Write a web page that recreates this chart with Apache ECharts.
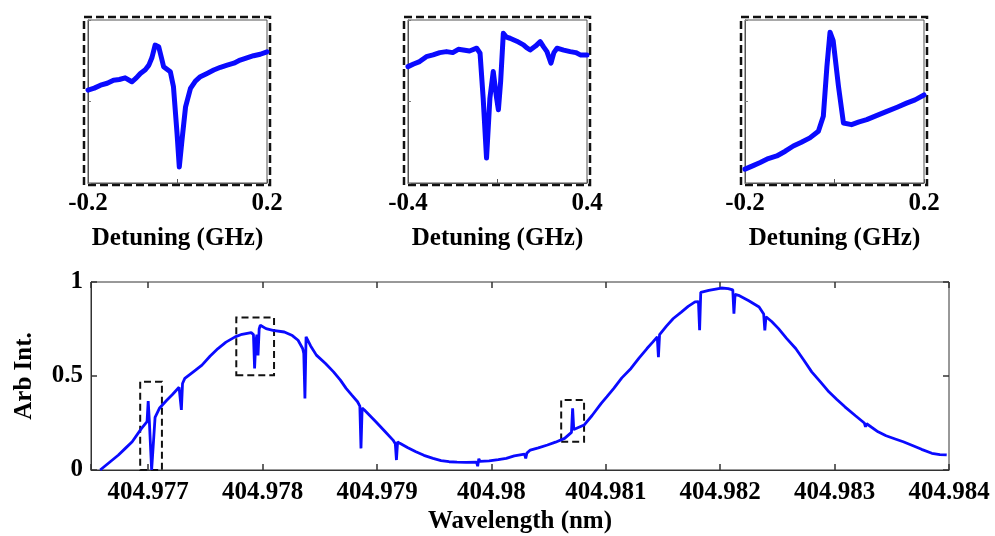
<!DOCTYPE html>
<html>
<head>
<meta charset="utf-8">
<script src="https://cdn.jsdelivr.net/npm/echarts@6.0.0/dist/echarts.min.js"></script>
<style>html,body{margin:0;padding:0;background:#fff}#c{width:995px;height:536px}</style>
</head>
<body>
<div id="c"></div>
<script>
// ---------- main spectrum ----------
const wavelength = [
404.97658,404.97666,404.97674,404.97680,404.97686,404.97694,404.97699,404.97700,404.97701,404.97703,
404.97704,404.97706,404.97710,404.97716,404.97721,404.97727,404.97728,404.97729,404.97730,404.97732,
404.97740,404.97747,404.97754,404.97761,404.97768,404.97776,404.97782,404.97790,404.97792,404.97793,
404.97794,404.97795,404.97796,404.97797,404.97798,404.97803,404.97809,404.97819,404.97826,404.97831,
404.97835,404.97836,404.97837,404.97838,404.97842,404.97847,404.97855,404.97862,404.97868,404.97873,
404.97878,404.97883,404.97885,404.97886,404.97887,404.97889,404.97899,404.97907,404.97914,404.97916,
404.97917,404.97918,404.97920,404.97927,404.97934,404.97941,404.97949,404.97956,404.97963,404.97970,
404.97978,404.97987,404.97988,404.97989,404.97990,404.97998,404.98006,404.98013,404.98020,404.98029,
404.98030,404.98031,404.98034,404.98041,404.98049,404.98056,404.98064,404.98070,404.98071,404.98072,
404.98081,404.98088,404.98096,404.98101,404.98107,404.98114,404.98122,404.98129,404.98136,404.98141,
404.98145,404.98146,404.98147,404.98153,404.98159,404.98166,404.98172,404.98178,404.98181,404.98182,
404.98183,404.98190,404.98201,404.98207,404.98211,404.98212,404.98213,404.98216,404.98225,404.98234,
404.98238,404.98239,404.98240,404.98245,404.98251,404.98258,404.98266,404.98273,404.98280,404.98288,
404.98295,404.98302,404.98309,404.98318,404.98326,404.98327,404.98328,404.98338,404.98345,404.98353,
404.98360,404.98367,404.98376,404.98385,404.98392,404.98398
];
const intensity = [
0.0,0.04,0.08,0.115,0.15,0.22,0.257,0.366,0.26,0.0,
0.0,0.28,0.33,0.37,0.40,0.44,0.45,0.32,0.46,0.487,
0.525,0.558,0.605,0.646,0.68,0.708,0.722,0.731,0.72,0.54,
0.68,0.72,0.61,0.75,0.77,0.752,0.743,0.734,0.715,0.69,
0.646,0.62,0.381,0.708,0.66,0.611,0.566,0.522,0.478,0.434,
0.398,0.363,0.34,0.115,0.33,0.319,0.257,0.205,0.159,0.14,
0.053,0.15,0.142,0.118,0.097,0.078,0.062,0.05,0.044,0.042,
0.041,0.042,0.02,0.06,0.046,0.049,0.055,0.062,0.075,0.085,
0.062,0.09,0.106,0.118,0.133,0.148,0.168,0.2,0.328,0.215,
0.239,0.29,0.354,0.39,0.434,0.49,0.54,0.595,0.646,0.68,
0.708,0.60,0.72,0.765,0.806,0.84,0.87,0.894,0.895,0.743,
0.945,0.955,0.968,0.965,0.958,0.832,0.935,0.929,0.90,0.867,
0.83,0.743,0.815,0.79,0.752,0.70,0.646,0.585,0.522,0.466,
0.416,0.375,0.336,0.29,0.25,0.23,0.246,0.203,0.182,0.165,
0.15,0.133,0.11,0.089,0.082,0.08
];
// dashed zoom boxes on the main spectrum: [x1, y1, x2, y2]
const zoomBoxes = [
  [404.97693, 0.0, 404.97712, 0.47],
  [404.97777, 0.504, 404.97810, 0.811],
  [404.98061, 0.150, 404.98081, 0.372]
];

// ---------- insets ----------
const inset1X = [-0.2,-0.186,-0.172,-0.157,-0.143,-0.130,-0.117,-0.102,-0.092,-0.083,-0.072,-0.064,-0.057,-0.050,-0.042,-0.036,-0.031,-0.016,-0.009,-0.001,0.004,0.010,0.018,0.029,0.040,0.051,0.066,0.081,0.096,0.111,0.126,0.140,0.155,0.170,0.185,0.2];
const inset1Y = [0.57,0.582,0.60,0.612,0.631,0.635,0.645,0.621,0.645,0.672,0.695,0.723,0.77,0.846,0.836,0.77,0.713,0.682,0.59,0.303,0.098,0.262,0.467,0.58,0.625,0.652,0.672,0.693,0.71,0.723,0.735,0.754,0.768,0.781,0.79,0.805];
const inset2X = [-0.4,-0.375,-0.348,-0.318,-0.288,-0.258,-0.228,-0.200,-0.175,-0.153,-0.125,-0.093,-0.078,-0.064,-0.049,-0.034,-0.019,-0.004,0.004,0.014,0.026,0.040,0.056,0.086,0.116,0.130,0.146,0.170,0.191,0.206,0.221,0.239,0.252,0.266,0.296,0.325,0.350,0.370,0.4];
const inset2Y = [0.714,0.73,0.745,0.775,0.786,0.80,0.806,0.80,0.82,0.816,0.81,0.827,0.796,0.52,0.153,0.52,0.684,0.52,0.449,0.622,0.918,0.895,0.888,0.87,0.847,0.83,0.816,0.84,0.867,0.835,0.806,0.735,0.80,0.827,0.815,0.806,0.80,0.786,0.786];
const inset3X = [-0.2,-0.183,-0.166,-0.148,-0.129,-0.110,-0.092,-0.074,-0.055,-0.036,-0.025,-0.017,-0.010,-0.003,0.009,0.020,0.038,0.055,0.072,0.095,0.117,0.140,0.161,0.180,0.2];
const inset3Y = [0.085,0.105,0.126,0.15,0.166,0.195,0.227,0.25,0.277,0.318,0.409,0.713,0.925,0.874,0.591,0.368,0.358,0.375,0.389,0.415,0.439,0.465,0.49,0.51,0.54];
const insetRanges = [0.2, 0.4, 0.2];
const insetTitle = 'Detuning (GHz)';

// ---------- layout ----------
const FONT = 'Liberation Serif';
const BLUE = '#0a0aff';
const mainGrid = {left: 91, top: 282, width: 858, height: 188};
const insetGrids = [
  {left: 88, top: 20, width: 179, height: 163},
  {left: 408, top: 20, width: 179, height: 163},
  {left: 745, top: 20, width: 179, height: 163}
];
const insetData = [[inset1X, inset1Y], [inset2X, inset2Y], [inset3X, inset3Y]];

function zip(a, b) { return a.map((v, i) => [v, b[i]]); }
function fmtMain(v) {
  const r = Math.round(v * 1000) / 1000;
  if (Math.abs(v - r) > 1e-7) return '';
  return String(parseFloat(r.toFixed(3)));
}
const labelStyle = {fontFamily: FONT, fontWeight: 'bold', fontSize: 25, color: '#000'};

const grids = [], xAxes = [], yAxes = [], series = [], graphics = [];

// main
grids.push(Object.assign({show: true, borderColor: '#333', borderWidth: 1}, mainGrid));
xAxes.push({
  gridIndex: 0, type: 'value', min: 404.9765, max: 404.984, minInterval: 0.001, maxInterval: 0.001,
  name: 'Wavelength (nm)', nameLocation: 'middle', nameGap: 39,
  nameTextStyle: labelStyle,
  axisLine: {show: true, onZero: false, lineStyle: {color: '#333', width: 1}},
  axisTick: {show: true, inside: true, length: 6, lineStyle: {color: '#333', width: 1.5}},
  axisLabel: Object.assign({}, labelStyle, {margin: 10, formatter: fmtMain, showMinLabel: true, showMaxLabel: true}),
  splitLine: {show: false}
});
xAxes.push({
  gridIndex: 0, type: 'value', position: 'top', min: 404.9765, max: 404.984, minInterval: 0.001, maxInterval: 0.001,
  axisLine: {show: false, onZero: false}, axisTick: {show: true, inside: true, length: 6, lineStyle: {color: '#333', width: 1.5}},
  axisLabel: {show: false}, splitLine: {show: false}
});
yAxes.push({
  gridIndex: 0, type: 'value', min: 0, max: 1, interval: 0.5,
  name: 'Arb Int.', nameLocation: 'middle', nameGap: 54, nameRotate: 90,
  nameTextStyle: labelStyle,
  axisLine: {show: true, onZero: false, lineStyle: {color: '#333', width: 1}},
  axisTick: {show: true, inside: true, length: 6, lineStyle: {color: '#333', width: 1.5}},
  axisLabel: Object.assign({}, labelStyle, {margin: 8, formatter: v => String(v)}),
  splitLine: {show: false}
});
yAxes.push({
  gridIndex: 0, type: 'value', position: 'right', min: 0, max: 1, interval: 0.5,
  axisLine: {show: false, onZero: false}, axisTick: {show: true, inside: true, length: 6, lineStyle: {color: '#333', width: 1.5}},
  axisLabel: {show: false}, splitLine: {show: false}
});
series.push({
  type: 'line', xAxisIndex: 0, yAxisIndex: 0, data: zip(wavelength, intensity),
  showSymbol: false, symbol: 'none', lineStyle: {color: BLUE, width: 2.8}, animation: false,
  markArea: {
    silent: true,
    itemStyle: {color: 'rgba(0,0,0,0)', borderColor: '#111', borderWidth: 2, borderType: [7, 4]},
    data: zoomBoxes.map(b => [{coord: [b[0], b[1]]}, {coord: [b[2], b[3]]}])
  }
});

// insets
insetGrids.forEach((g, i) => {
  const gi = i + 1;
  grids.push(Object.assign({show: true, borderColor: '#555', borderWidth: 1}, g));
  const r = insetRanges[i];
  xAxes.push({
    gridIndex: gi, type: 'value', min: -r, max: r, interval: r,
    name: insetTitle, nameLocation: 'middle', nameGap: 43,
    nameTextStyle: labelStyle,
    axisLine: {show: true, onZero: false, lineStyle: {color: '#555', width: 1}},
    axisTick: {show: true, inside: true, length: 4, lineStyle: {color: '#555', width: 1}},
    axisLabel: Object.assign({}, labelStyle, {margin: 8, formatter: v => (Math.abs(v) < 1e-9 ? '' : String(v))}),
    splitLine: {show: false}
  });
  yAxes.push({
    gridIndex: gi, type: 'value', min: 0, max: 1, interval: 0.5,
    axisLine: {show: true, onZero: false, lineStyle: {color: '#555', width: 1}},
    axisTick: {show: true, inside: true, length: 3, lineStyle: {color: '#777', width: 1}},
    axisLabel: {show: false}, splitLine: {show: false}
  });
  series.push({
    type: 'line', xAxisIndex: xAxes.length - 1, yAxisIndex: yAxes.length - 1,
    data: zip(insetData[i][0], insetData[i][1]),
    showSymbol: false, symbol: 'none', lineStyle: {color: BLUE, width: 5, join: 'round', cap: 'round'}, animation: false
  });
  graphics.push({
    type: 'rect', silent: true,
    shape: {x: g.left - 4, y: g.top - 3, width: g.width + 7, height: g.height + 5},
    style: {fill: 'none', stroke: '#111', lineWidth: 2.5, lineDash: [8, 4]}
  });
});

const chart = echarts.init(document.getElementById('c'), null, {renderer: 'canvas'});
chart.setOption({
  animation: false,
  backgroundColor: '#fff',
  grid: grids, xAxis: xAxes, yAxis: yAxes, series: series,
  graphic: graphics
});
</script>
</body>
</html>
